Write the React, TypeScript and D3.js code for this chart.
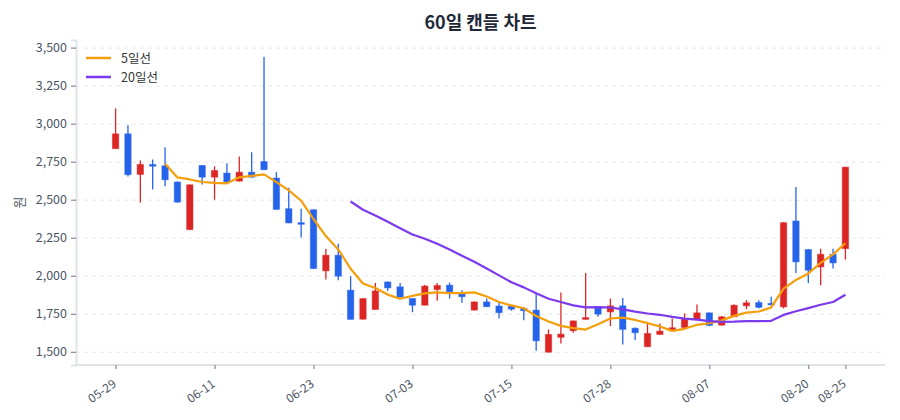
import { useEffect, useRef } from 'react';
import * as d3 from 'd3';

const dates = [
  '05-29', '05-30', '06-02', '06-03', '06-04', '06-05', '06-09', '06-10', '06-11', '06-12',
  '06-13', '06-16', '06-17', '06-18', '06-19', '06-20', '06-23', '06-24', '06-25', '06-26',
  '06-27', '06-30', '07-01', '07-02', '07-03', '07-04', '07-07', '07-08', '07-09', '07-10',
  '07-11', '07-14', '07-15', '07-16', '07-17', '07-18', '07-21', '07-22', '07-23', '07-24',
  '07-28', '07-29', '07-30', '07-31', '08-01', '08-04', '08-05', '08-06', '08-07', '08-08',
  '08-11', '08-12', '08-13', '08-14', '08-18', '08-19', '08-20', '08-21', '08-22', '08-25',
];

const opens = [
  2835, 2933, 2666, 2732, 2723, 2616, 2303, 2725, 2648, 2675,
  2622, 2681, 2751, 2642, 2441, 2349, 2434, 2032, 2135, 1905,
  1714, 1778, 1959, 1927, 1850, 1806, 1909, 1938, 1887, 1774,
  1828, 1801, 1800, 1785, 1774, 1497, 1595, 1638, 1713, 1796,
  1762, 1802, 1655, 1533, 1614, 1638, 1660, 1713, 1756, 1675,
  1730, 1802, 1824, 1818, 1795, 2360, 2172, 2058, 2141, 2178,
];
const highs = [
  3100, 2990, 2758, 2764, 2845, 2620, 2600, 2728, 2719, 2740,
  2784, 2812, 3440, 2681, 2578, 2441, 2436, 2178, 2211, 1997,
  1852, 1953, 1962, 1953, 1852, 1940, 1953, 1955, 1905, 1830,
  1850, 1828, 1805, 1795, 1883, 1647, 1890, 1705, 2018, 1798,
  1850, 1854, 1660, 1682, 1686, 1719, 1752, 1811, 1758, 1735,
  1811, 1840, 1838, 1861, 2352, 2583, 2175, 2178, 2178, 2716,
];
const lows = [
  2835, 2653, 2482, 2567, 2589, 2480, 2300, 2600, 2500, 2610,
  2620, 2644, 2695, 2436, 2345, 2251, 2045, 1975, 1970, 1713,
  1712, 1778, 1900, 1857, 1760, 1806, 1835, 1850, 1822, 1772,
  1795, 1719, 1770, 1708, 1507, 1496, 1555, 1625, 1712, 1730,
  1669, 1548, 1577, 1533, 1612, 1636, 1658, 1711, 1668, 1673,
  1728, 1780, 1785, 1806, 1785, 2018, 1953, 1938, 2047, 2106,
];
const closes = [
  2933, 2664, 2732, 2720, 2631, 2484, 2598, 2648, 2692, 2616,
  2681, 2648, 2697, 2436, 2347, 2338, 2047, 2135, 1997, 1713,
  1850, 1900, 1920, 1860, 1806, 1932, 1936, 1894, 1862, 1828,
  1796, 1757, 1780, 1770, 1572, 1614, 1616, 1703, 1725, 1747,
  1802, 1647, 1625, 1621, 1636, 1658, 1715, 1756, 1673, 1730,
  1806, 1822, 1792, 1808, 2349, 2091, 2036, 2141, 2084, 2714,
];

const yTicks = [1500, 1750, 2000, 2250, 2500, 2750, 3000, 3250, 3500];
const maSeries = [
  { label: '5일선', period: 5, color: '#f59e0b' },
  { label: '20일선', period: 20, color: '#7c3aed' },
];

const UP = '#dc2626';
const DOWN = '#2563eb';
const FONT = '"Noto Sans CJK KR", "Noto Sans", sans-serif';

const movingAverage = (period: number) =>
  closes.map((_, i) => (i < period - 1 ? null : d3.mean(closes.slice(i - period + 1, i + 1))!));

export default function App() {
  const svgRef = useRef<SVGSVGElement>(null);

  useEffect(() => {
    if (!svgRef.current) return;
    const svg = d3.select(svgRef.current);
    svg.selectAll('*').remove();

    const width = 900;
    const height = 420;
    const margin = { top: 40, right: 15, bottom: 55, left: 76 };
    const innerW = width - margin.left - margin.right;
    const innerH = height - margin.top - margin.bottom;

    const idx = d3.range(dates.length);
    const x = d3.scalePoint<number>().domain(idx).range([0, innerW]).padding(3.2);
    const y = d3.scaleLinear().domain([1413, 3550]).range([innerH, 0]);

    const g = svg.append('g').attr('transform', `translate(${margin.left},${margin.top})`);

    // Grid lines
    g.append('g')
      .call(d3.axisLeft(y).tickValues(yTicks).tickSize(-innerW).tickFormat(() => ''))
      .call(s => s.selectAll('.tick line').attr('stroke', '#e5e7eb').attr('stroke-dasharray', '4,4'))
      .call(s => s.select('.domain').remove());

    // Y axis
    g.append('g')
      .call(d3.axisLeft(y).tickValues(yTicks).tickSize(5).tickPadding(4).tickFormat(d => d3.format(',')(d as number)))
      .call(s => s.select('.domain').attr('stroke', '#dfe3e8').attr('stroke-width', 2))
      .call(s => s.selectAll('.tick line').attr('stroke', '#6b7280'))
      .call(s => s.selectAll('.tick text').attr('fill', '#4b5563').style('font-size', '12.5px').style('font-family', FONT));

    // X axis
    const xTicks = idx.filter(i => i % 8 === 0 || i === dates.length - 1);
    g.append('g')
      .attr('transform', `translate(0,${innerH})`)
      .call(d3.axisBottom(x).tickValues(xTicks).tickSize(4).tickSizeOuter(0).tickFormat(i => dates[i as number]))
      .call(s => s.select('.domain').attr('stroke', '#dfe3e8').attr('stroke-width', 2).attr('d', `M0,0H${innerW}`))
      .call(s => s.selectAll('.tick line').attr('stroke', '#6b7280'))
      .call(s => s.selectAll('.tick text')
        .attr('fill', '#4b5563')
        .style('font-size', '12px')
        .style('font-family', FONT)
        .attr('text-anchor', 'end')
        .attr('dy', '0')
        .attr('transform', 'translate(-3,15) rotate(-35)'));

    // Candles
    const candles = g.append('g');
    idx.forEach(i => {
      const up = closes[i] >= opens[i];
      const color = up ? UP : DOWN;
      const cx = x(i)!;
      candles.append('line')
        .attr('x1', cx).attr('x2', cx)
        .attr('y1', y(highs[i])).attr('y2', y(lows[i]))
        .attr('stroke', color).attr('stroke-width', 1.3);
      const top = y(Math.max(opens[i], closes[i]));
      const bottom = y(Math.min(opens[i], closes[i]));
      candles.append('rect')
        .attr('x', cx - 3.2).attr('width', 6.4)
        .attr('y', top).attr('height', Math.max(1.5, bottom - top))
        .attr('fill', color)
        .attr('stroke', color).attr('stroke-opacity', 0.45).attr('stroke-width', 1);
    });

    // Moving averages
    maSeries.forEach(s => {
      const values = movingAverage(s.period);
      const line = d3.line<number | null>()
        .defined(d => d !== null)
        .x((_, i) => x(i)!)
        .y(d => y(d as number));
      g.append('path')
        .datum(values)
        .attr('fill', 'none')
        .attr('stroke', s.color)
        .attr('stroke-width', 2.2)
        .attr('stroke-linejoin', 'round')
        .attr('d', line);
    });

    // Legend
    const legend = g.append('g').attr('transform', 'translate(10,18)');
    maSeries.forEach((s, k) => {
      const row = legend.append('g').attr('transform', `translate(0,${k * 19})`);
      row.append('line').attr('x1', 0).attr('x2', 25).attr('stroke', s.color).attr('stroke-width', 2.5);
      row.append('text')
        .attr('x', 35).attr('y', 4.5)
        .attr('fill', '#333')
        .style('font-size', '12.5px')
        .style('font-family', FONT)
        .text(s.label);
    });

    // Y label
    svg.append('text')
      .attr('transform', `translate(24,${margin.top + innerH / 2}) rotate(-90)`)
      .attr('text-anchor', 'middle')
      .attr('fill', '#4b5563')
      .style('font-size', '13px')
      .style('font-family', FONT)
      .text('원');

    // Title
    svg.append('text')
      .attr('x', margin.left + innerW / 2)
      .attr('y', 29)
      .attr('text-anchor', 'middle')
      .attr('fill', '#1f2937')
      .style('font-size', '18px')
      .style('font-weight', '700')
      .style('font-family', FONT)
      .text('60일 캔들 차트');
  }, []);

  return (
    <div style={{ position: 'absolute', left: 0, top: 0, background: '#fff' }}>
      <svg ref={svgRef} width={900} height={420} style={{ display: 'block' }} />
    </div>
  );
}
